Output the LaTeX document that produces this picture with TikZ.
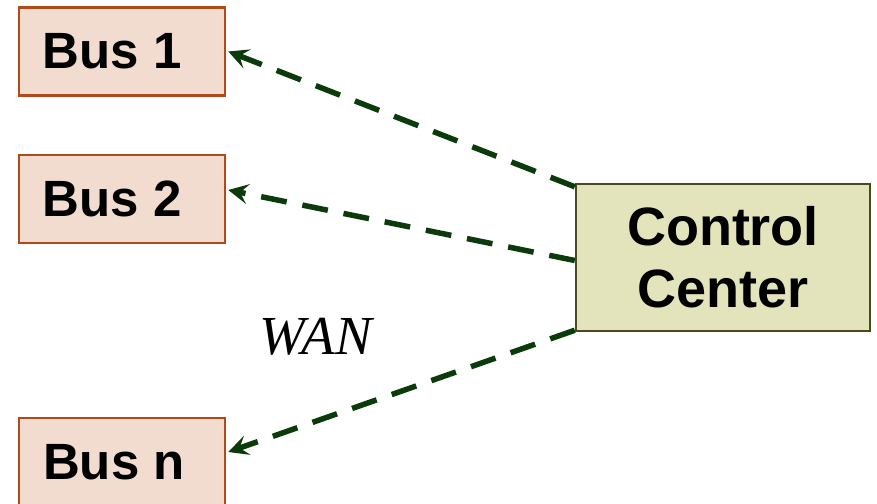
\documentclass[tikz,border=0pt]{standalone}
\usepackage{fontspec}
\setmainfont{Liberation Sans}
\newfontfamily\timesfont{Liberation Serif}
\usetikzlibrary{arrows.meta}
\definecolor{busfill}{HTML}{F2DCD0}
\definecolor{busline}{HTML}{B04A1A}
\definecolor{ccfill}{HTML}{E4E4BC}
\definecolor{ccline}{HTML}{4A4A22}
\definecolor{arrowgreen}{HTML}{0B3A0B}
\begin{document}
\begin{tikzpicture}[x=1pt,y=1pt,
  busbox/.style={draw=busline, line width=2.5pt, fill=busfill, minimum width=206pt, minimum height=88pt, inner sep=0pt,
    font=\fontsize{51}{60}\selectfont\bfseries},
  ccbox/.style={draw=ccline, line width=2.5pt, fill=ccfill, minimum width=294pt, minimum height=147pt, inner sep=0pt,
    align=center, font=\fontsize{54}{62}\selectfont\bfseries},
  link/.style={draw=arrowgreen, line width=5.5pt, dash pattern=on 26pt off 16pt,
    -{Stealth[length=20pt,width=20pt,inset=8pt]}}]
\useasboundingbox (0,0) rectangle (877,503);
\clip (0,0) rectangle (877,503);
\node[busbox] (b1) at (122,451.5) {Bus 1\rule{20pt}{0pt}};
\node[busbox] (b2) at (122,304) {Bus 2\rule{20pt}{0pt}};
\node[busbox] (bn) at (122,41) {Bus n\rule{16pt}{0pt}};
\node[ccbox] (cc) at (723,245.5) {Control\\Center};
\node[font=\timesfont\itshape\fontsize{55}{60}\selectfont] (wan) at (316,166) {WAN};
\coordinate (c1) at ([yshift=-4pt]cc.north west);
\coordinate (c2) at ([yshift=-3pt]cc.west);
\coordinate (c3) at ([yshift=2pt]cc.south west);
\draw[link] (c1) -- ([xshift=2pt,yshift=0pt]b1.east);
\draw[link] (c2) -- ([xshift=2pt,yshift=9pt]b2.east);
\draw[link] (c3) -- ([xshift=2pt,yshift=10pt]bn.east);
\end{tikzpicture}
\end{document}
